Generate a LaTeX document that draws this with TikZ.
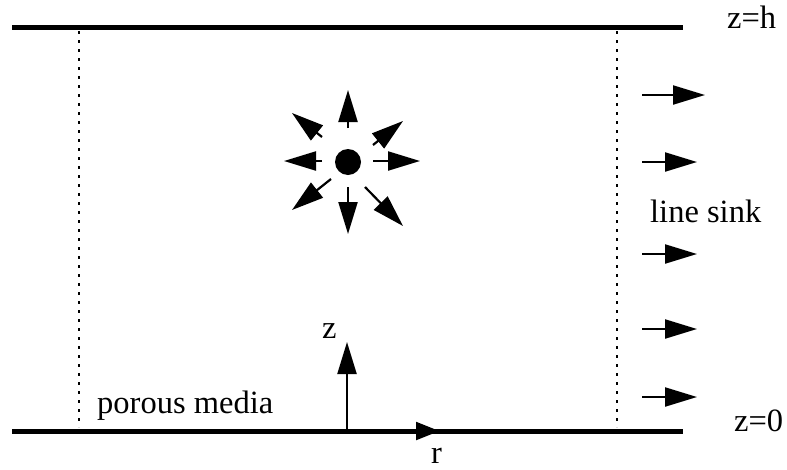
\documentclass[tikz,border=0pt]{standalone}
\usepackage{fontspec}
\setmainfont{Liberation Serif}
\usetikzlibrary{arrows.meta}
\begin{document}
\begin{tikzpicture}[x=1pt,y=-1pt,
  wall/.style={line width=5pt},
  guide/.style={line width=1.8pt, dash pattern=on 2.5pt off 6.5pt},
  flow/.style={line width=2.2pt,-{Triangle[length=32pt,width=19pt]}},
  lbl/.style={font=\fontsize{32.5}{36}\selectfont, inner sep=0pt, anchor=base west}]
\useasboundingbox (0,0) rectangle (787,469);
% walls
\coordinate (tl) at (12,27); \coordinate (tr) at (683,27);
\coordinate (bl) at (12,431); \coordinate (br) at (683,431);
\draw[wall] (tl) -- (tr);
\draw[wall] (bl) -- (br);
% dotted guides
\coordinate (lg1) at (79,31); \coordinate (lg2) at (79,427);
\coordinate (rg1) at (617,31); \coordinate (rg2) at (617,427);
\draw[guide] (lg1) -- (lg2);
\draw[guide] (rg1) -- (rg2);
% point source
\node[circle, fill=black, inner sep=0pt, minimum size=26pt] (src) at (348,162) {};
\foreach \ta/\tb/\hx/\hy [count=\i] in {
  348/128/348/90, 322/137/292/113, 373/145/403/121, 322/161/284/161,
  373/161/420/161, 331/179/292/210, 348/187/348/234, 365/187/403/226}{
  \coordinate (s\i a) at (\ta,\tb);
  \coordinate (s\i b) at (\hx,\hy);
  \draw[flow] (s\i a) -- (s\i b);
}
% line sink arrows
\foreach \yy/\xe [count=\i] in {95/705,162/697,254/697,329/697,397/697}{
  \coordinate (k\i a) at (642,\yy);
  \coordinate (k\i b) at (\xe,\yy);
  \draw[flow] (k\i a) -- (k\i b);
}
% axes
\coordinate (o) at (347,431);
\coordinate (zt) at (347,342);
\coordinate (rt) at (440,431);
\draw[flow] (o) -- (zt);
\draw[line width=5pt,-{Triangle[length=24pt,width=17pt]}] (o) -- (rt);
% labels
\node[lbl] (zh) at (727,28) {z=h};
\node[lbl] (z0) at (734,431) {z=0};
\node[lbl] (ls) at (650,222) {line sink};
\node[lbl] (pm) at (97,413) {porous media};
\node[lbl] (zl) at (322,338) {z};
\node[lbl] (rl) at (431,463) {r};
\end{tikzpicture}
\end{document}
